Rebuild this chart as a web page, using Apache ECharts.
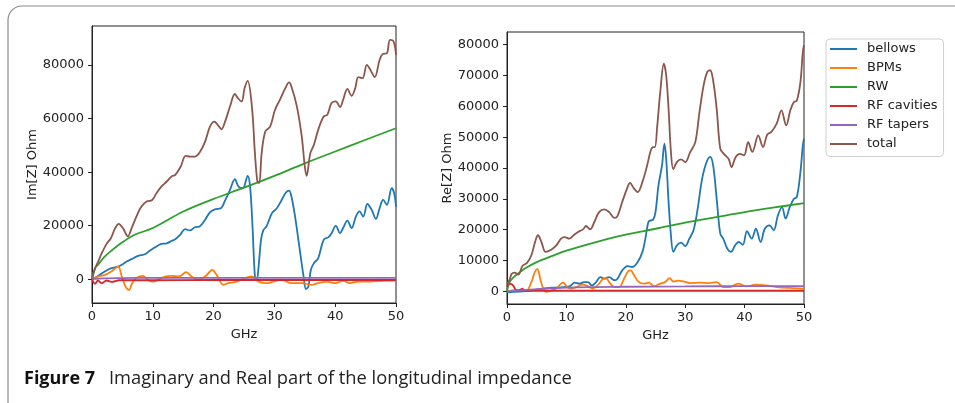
<!DOCTYPE html>
<html>
<head>
<meta charset="utf-8">
<script src="https://cdn.jsdelivr.net/npm/echarts@6/dist/echarts.min.js"></script>
<style>
  html, body { margin: 0; padding: 0; background: #fff; }
  #chart { width: 955px; height: 403px; }
</style>
</head>
<body>
<div id="chart"></div>
<script>
var seriesNames = ['bellows', 'BPMs', 'RW', 'RF cavities', 'RF tapers', 'total'];
var seriesColors = ['#1f77b4', '#ff7f0e', '#2ca02c', '#d62728', '#9467bd', '#8c564b'];

var imTicks = [0, 20000, 40000, 60000, 80000];
var reTicks = [0, 10000, 20000, 30000, 40000, 50000, 60000, 70000, 80000];

// Im[Z] (left panel), [GHz, Ohm]
var imBellows = [[0,0],[1,1200],[2.1,2900],[3.2,4100],[4.3,4700],[4.9,5400],[5.7,6600],[6.5,7500],[7.6,8700],[8.7,9300],[9.5,10600],[10.3,11800],[11.4,13200],[12.3,13400],[13.1,14300],[13.7,14900],[14.5,16600],[15.3,18700],[16.1,18200],[16.9,19400],[17.7,19700],[18.6,22200],[19.4,25000],[20.2,26100],[21.2,26500],[21.8,29000],[22.7,33400],[23.5,37400],[24.1,34600],[24.8,34000],[25.6,38600],[26.0,34600],[26.4,19700],[26.8,1000],[27.1,-300],[27.4,4700],[27.8,14700],[28.2,18400],[28.7,19700],[29.6,24700],[30.4,26500],[31.2,29600],[31.9,32400],[32.4,33100],[32.8,30900],[33.4,23400],[34.1,12200],[34.8,1000],[35.2,-3700],[35.6,-2700],[36.0,3500],[36.5,6000],[37.2,7800],[38.1,14700],[38.9,15700],[39.4,17200],[40.1,19900],[40.8,17200],[41.3,19100],[42.0,21900],[42.7,19100],[43.4,23400],[44.0,25300],[44.6,23400],[45.3,28100],[46.0,25900],[46.7,22500],[47.3,26500],[47.9,29600],[48.5,27800],[49.3,34000],[49.7,32100],[50,27100]];
var imBpms = [[0,0],[1,1000],[2.1,1600],[3.2,2900],[4.3,4700],[4.9,1000],[5.5,-2700],[6.1,-4000],[6.6,-1500],[7.3,400],[8.4,1200],[9.3,-500],[10.1,-900],[10.9,-200],[12.0,1000],[13.1,1200],[14.3,1000],[15.5,2600],[16.4,1000],[17.5,-200],[18.7,1200],[19.8,3500],[20.5,1600],[21.6,-2100],[22.4,-1500],[23.8,-900],[25.1,400],[26.3,1000],[27.4,-900],[28.7,-1500],[29.8,-900],[31.2,-200],[32.8,-1500],[34.5,-1500],[36.1,-2100],[37.2,-1500],[38.6,-900],[40.0,-1500],[41.3,-600],[42.4,-1500],[43.8,-900],[45.7,-900],[47.9,-600],[50,-500]];
var imRw = [[0,0],[0.5,4100],[1,5400],[2,8200],[3,10300],[5,13800],[7,16600],[10,19100],[15,25300],[20,30000],[25,34200],[30,38600],[35,43300],[40,47700],[45,52100],[50,56400]];
var imCavities = [[0,0],[0.5,-1700],[1,-500],[1.6,-1500],[2.4,-500],[3.2,-1000],[4.5,-400],[10,-400],[20,-300],[30,-300],[40,-300],[50,-300]];
var imTapers = [[0,0],[2,300],[5,400],[10,500],[20,500],[30,500],[40,500],[50,500]];
var imTotal = [[0,0],[0.5,4000],[1,6500],[1.6,9700],[2.4,13200],[3.1,15300],[3.8,19000],[4.4,20700],[5.1,19000],[5.9,16000],[6.5,19000],[7.3,23400],[8.1,27100],[9.0,29000],[9.9,29600],[10.6,32100],[11.4,34600],[12.3,36500],[13.1,38400],[13.7,39000],[14.6,42100],[15.4,46100],[16.1,45800],[16.9,45800],[17.7,47300],[18.6,51400],[19.4,57000],[20.1,58900],[20.9,57000],[21.3,56000],[21.8,58300],[22.7,64500],[23.5,69200],[24.0,67600],[24.6,66400],[25.1,71400],[25.6,74100],[26.3,64500],[26.8,47000],[27.2,36500],[27.5,35900],[27.9,47000],[28.5,55200],[29.3,57000],[30.1,63300],[30.9,67000],[31.8,71400],[32.4,73500],[32.8,72000],[33.7,64500],[34.5,53300],[35.0,42100],[35.3,38600],[35.9,47000],[36.5,50200],[37.2,55800],[38.1,60800],[38.7,61400],[39.4,65800],[40.1,66400],[40.8,64300],[41.3,67000],[42.0,71100],[42.7,68500],[43.3,71400],[43.8,75500],[44.5,75100],[45.2,80100],[45.8,78200],[46.5,75500],[47.3,81900],[47.8,84100],[48.5,84400],[49.0,89400],[49.6,88800],[50,83800]];

// Re[Z] (right panel), [GHz, Ohm]
var reBellows = [[0,-300],[1.1,-200],[2.7,0],[4.4,300],[6.1,900],[7.7,1200],[9.4,1400],[10.5,1600],[11.4,2800],[12.2,2500],[13.0,3000],[13.6,3000],[14.3,1900],[15.0,3000],[15.7,4600],[16.4,4100],[17.2,4600],[18.1,3600],[18.6,4100],[19.4,6800],[20.3,8200],[21.1,7900],[22.0,9500],[22.8,12800],[23.3,17100],[23.8,22500],[24.2,23000],[24.6,23200],[25.0,25700],[25.5,34400],[26.1,40900],[26.5,47900],[26.8,43000],[27.2,29000],[27.6,18200],[28.0,12800],[28.6,14900],[29.3,15800],[30.0,14700],[30.7,17100],[31.4,19800],[32.1,26800],[32.8,36000],[33.5,41400],[34.2,43600],[34.7,40900],[35.3,30000],[35.9,18700],[36.4,17100],[37.1,13800],[37.7,12800],[38.4,14900],[39.0,16000],[39.7,15100],[40.4,19500],[41.2,17100],[41.9,20300],[42.7,16000],[43.4,20300],[44.2,21400],[44.9,19800],[45.6,24600],[46.3,27300],[46.9,23600],[47.6,27300],[48.3,30000],[48.8,30600],[49.4,38700],[49.8,47300],[50,49500]];
var reBpms = [[0,0],[1,300],[2.2,500],[3.3,300],[4.1,3000],[4.7,6300],[5.1,7300],[5.6,4100],[6.1,900],[6.7,-200],[7.5,300],[8.3,900],[9.1,2500],[9.5,2800],[10.1,1400],[10.8,900],[11.6,1400],[12.8,2200],[13.6,1700],[14.4,900],[15.5,2500],[16.1,3900],[16.7,4300],[17.2,3000],[18.1,1400],[18.9,1400],[19.7,4100],[20.4,6500],[20.8,6800],[21.4,5200],[22.2,3000],[23.1,2500],[23.9,2800],[24.7,1700],[25.8,2500],[26.6,3000],[27.4,4300],[28.0,3200],[28.9,3500],[29.7,3200],[30.8,2700],[32.5,2800],[33.9,2700],[35.3,3000],[36.4,1400],[37.5,1400],[38.9,2500],[40.3,1600],[41.9,2200],[43.6,1900],[45.4,1400],[47.6,1100],[50,900]];
var reRw = [[0,0],[0.25,2000],[0.5,3200],[1,4400],[2,6000],[3,7400],[5,9500],[7.5,11400],[10,13200],[15,16000],[20,18400],[25,20300],[30,22300],[35,24000],[40,25700],[45,27200],[50,28600]];
var reCavities = [[0,1500],[0.4,2500],[0.8,2300],[1.1,1700],[1.6,300],[2.2,500],[2.6,900],[3.0,100],[4,200],[10,200],[20,200],[30,200],[40,200],[50,200]];
var reTapers = [[0,0],[2,300],[5,700],[10,1200],[15,1400],[20,1500],[30,1600],[40,1700],[50,1700]];
var reTotal = [[0,2500],[0.4,3600],[0.8,5700],[1.3,6100],[1.9,5400],[2.6,8200],[3.4,9300],[4.1,11700],[4.8,16500],[5.2,18200],[5.8,16000],[6.5,12800],[7.5,13600],[8.3,14900],[9.1,17100],[9.7,17600],[10.5,17100],[11.2,18200],[11.9,19200],[12.8,20100],[13.3,21200],[14.0,20100],[14.7,22500],[15.5,25700],[16.4,26600],[17.2,25700],[18.1,23800],[18.6,24400],[19.4,29000],[20.3,33800],[20.7,35200],[21.4,33300],[22.0,32200],[22.8,35500],[23.6,40900],[24.2,45700],[24.6,46800],[24.9,46800],[25.3,53800],[25.8,64600],[26.4,73800],[26.8,70000],[27.2,59200],[27.6,45200],[28.0,39600],[28.6,41900],[29.3,42800],[30.0,41900],[30.8,45000],[31.7,48400],[32.4,58100],[33.1,66800],[33.7,71100],[34.2,71700],[34.7,68400],[35.3,59200],[35.9,46300],[36.5,44600],[37.3,43000],[37.8,40300],[38.5,43600],[39.2,44600],[39.9,44100],[40.6,48400],[41.3,45200],[42.3,50600],[43.1,46800],[43.8,50800],[44.5,51700],[45.4,54400],[46.2,58700],[47.0,53800],[47.7,58700],[48.3,61400],[48.8,61900],[49.4,67900],[49.8,77600],[50,79800]];

var imData = [imBellows, imBpms, imRw, imCavities, imTapers, imTotal];
var reData = [reBellows, reBpms, reRw, reCavities, reTapers, reTotal];

var font = 'DejaVu Sans';
var ink = '#222';

function plain(v) {
  return String(v);
}

function makeX(gridIndex) {
  return {
    type: 'value', gridIndex: gridIndex, min: 0, max: 50, interval: 10,
    name: 'GHz', nameLocation: 'middle', nameGap: 21,
    nameTextStyle: { fontFamily: font, fontSize: 13, color: ink },
    axisLine: { show: true, onZero: false, lineStyle: { color: ink, width: 1 } },
    axisTick: { show: true, length: 4, lineStyle: { color: ink } },
    axisLabel: { margin: 7, fontFamily: font, fontSize: 13, color: ink, formatter: plain },
    splitLine: { show: false }
  };
}

function makeY(gridIndex, min, max, ticks, name, gap) {
  return {
    type: 'value', gridIndex: gridIndex, min: min, max: max,
    name: name, nameLocation: 'middle', nameGap: gap,
    nameTextStyle: { fontFamily: font, fontSize: 13, color: ink },
    axisLine: { show: true, onZero: false, lineStyle: { color: ink, width: 1 } },
    axisTick: { show: true, length: 4, lineStyle: { color: ink }, customValues: ticks },
    axisLabel: { margin: 8, fontFamily: font, fontSize: 13, color: ink, customValues: ticks, formatter: plain },
    splitLine: { show: false }
  };
}

var series = [];
for (var i = 0; i < seriesNames.length; i++) {
  series.push({
    name: seriesNames[i], type: 'line', xAxisIndex: 0, yAxisIndex: 0,
    data: imData[i], showSymbol: false, smooth: 0.35,
    lineStyle: { width: 1.8, color: seriesColors[i] }, itemStyle: { color: seriesColors[i] }
  });
}
for (var i = 0; i < seriesNames.length; i++) {
  series.push({
    name: seriesNames[i], type: 'line', xAxisIndex: 1, yAxisIndex: 1,
    data: reData[i], showSymbol: false, smooth: 0.35,
    lineStyle: { width: 1.8, color: seriesColors[i] }, itemStyle: { color: seriesColors[i] }
  });
}

var myChart = echarts.init(document.getElementById('chart'), null, { renderer: 'canvas' });
var option = {
  animation: false,
  backgroundColor: '#fff',
  grid: [
    { left: 92, top: 26, width: 304, height: 277, show: true, borderColor: ink, borderWidth: 1, backgroundColor: 'transparent' },
    { left: 507, top: 32, width: 297, height: 272, show: true, borderColor: ink, borderWidth: 1, backgroundColor: 'transparent' }
  ],
  xAxis: [makeX(0), makeX(1)],
  yAxis: [
    makeY(0, -8900, 94600, imTicks, 'Im[Z] Ohm', 48),
    makeY(1, -4100, 84100, reTicks, 'Re[Z] Ohm', 43)
  ],
  legend: {
    data: seriesNames,
    orient: 'vertical', left: 826, top: 39,
    icon: 'rect', itemWidth: 27, itemHeight: 2, itemGap: 4,
    padding: [2.5, 6, 5, 4],
    backgroundColor: '#fff', borderColor: '#d0d0d0', borderWidth: 1, borderRadius: 4,
    textStyle: { fontFamily: font, fontSize: 13, color: ink, lineHeight: 15, padding: [0, 0, 0, 5] }
  },
  graphic: [
    {
      type: 'rect', silent: true, z: -1,
      shape: { x: 8, y: 6, width: 970, height: 430, r: 14 },
      style: { fill: 'none', stroke: '#8a8a8a', lineWidth: 1.2 }
    },
    {
      type: 'text', left: 24, top: 370,
      style: { text: 'Figure 7', fontFamily: 'Open Sans', fontWeight: 'bold', fontSize: 18, fill: '#111' }
    },
    {
      type: 'text', left: 109, top: 370,
      style: { text: 'Imaginary and Real part of the longitudinal impedance', fontFamily: 'Open Sans', fontSize: 18.3, fill: '#222' }
    }
  ],
  series: series
};
myChart.setOption(option);
</script>
</body>
</html>
